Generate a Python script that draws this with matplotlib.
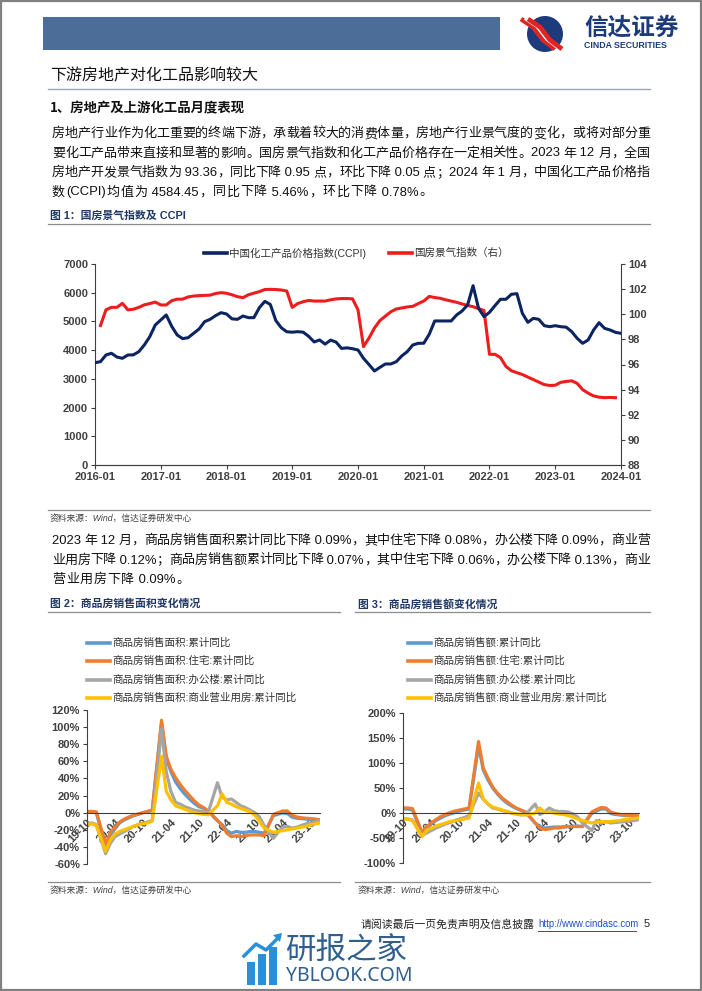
import re
import numpy as np
import matplotlib
matplotlib.use('Agg')
import matplotlib.pyplot as plt
from matplotlib.lines import Line2D
from matplotlib.patches import Rectangle, Ellipse, Polygon

# ---------------- data ----------------
ticks1 = ['2016-01', '2017-01', '2018-01', '2019-01', '2020-01',
          '2021-01', '2022-01', '2023-01', '2024-01']
ccpi = [3563, 3598, 3831, 3890, 3760, 3715, 3830, 3835, 3947, 4180, 4469, 4876,
        5050, 5225, 4830, 4528, 4400, 4435, 4587, 4737, 4991, 5073, 5201, 5305,
        5260, 5090, 5073, 5189, 5131, 5131, 5480, 5700, 5590, 5030, 4780, 4640,
        4625, 4644, 4625, 4480, 4285, 4354, 4210, 4350, 4280, 4060, 4080, 4050,
        4006, 3715, 3500, 3274, 3400, 3518, 3518, 3600, 3800, 3950, 4180, 4238,
        4240, 4552, 5016, 5016, 5016, 5016, 5225, 5364, 5573, 6245, 5457, 5166,
        5317, 5550, 5771, 5771, 5945, 5968, 5282, 4968, 5108, 5073, 4852, 4817,
        4852, 4817, 4800, 4644, 4411, 4238, 4354, 4702, 4957, 4760, 4702, 4620,
        4584]
climate = [None,
           99.10, 100.35, 100.55, 100.55, 100.87, 100.35, 100.40, 100.55, 100.75, 100.85, 100.97,
           100.74, 100.74, 101.08, 101.20, 101.20, 101.38, 101.45, 101.48, 101.50, 101.52, 101.65, 101.72,
           101.67, 101.55, 101.40, 101.32, 101.55, 101.68, 101.80, 101.97, 101.98, 101.97, 101.93, 101.85,
           100.55, 100.85, 101.00, 101.10, 101.05, 101.05, 101.05, 101.15, 101.22, 101.25, 101.25, 101.23,
           100.35, 97.42, 98.10, 98.90, 99.50, 99.85, 100.20, 100.42, 100.50, 100.58, 100.63, 100.85,
           101.05, 101.42, 101.33, 101.27, 101.15, 101.05, 100.95, 100.82, 100.70, 100.60, 100.45, 100.30,
           96.81, 96.81, 96.55, 95.85, 95.50, 95.35, 95.20, 95.00, 94.80, 94.60, 94.40, 94.33,
           94.35, 94.58, 94.65, 94.70, 94.50, 94.00, 93.72, 93.50, 93.40, 93.36, 93.38, 93.36,
           None]
name_ccpi = '中国化工产品价格指数(CCPI)'
name_climate = '国房景气指数（右）'

ticks2 = ['19-10', '20-04', '20-10', '21-04', '21-10', '22-04', '22-10', '23-04', '23-10']
N2 = 51  # monthly 2019-10 .. 2023-12
area_total = [0.5, 0.5, 0, None, -40, -26, -19, -12, -8.5, -6, -3.5, -2, 0, 1.3, 2.6,
              None, 105, 64, 48, 36, 28, 21.5, 16, 11, 7, 5, 2,
              None, -9.6, -14, -21, -24, -22, -23, -23, -22, -22, -23, -24,
              None, -3.6, -1.8, -0.4, -1, -5.3, -6.5, -7, -7.5, -7.8, -8, -8.5]
area_res = [1.5, 1.5, 1, None, -37, -23, -17, -11, -7.5, -5, -3, -1.5, 0, 1.5, 3,
            None, 108, 66, 51, 41, 33, 26, 20, 14, 9, 6, 2,
            None, -9, -15, -24, -28, -27, -28, -27, -26, -26, -26, -27,
            None, -2, 0, 2, 2, -3, -5, -6, -6.5, -7, -7.5, -8.5]
area_office = [-13, -12, -14, None, -48, -36, -28, -25, -22, -19, -16, -14, -12.5, -11, -9,
               None, 98, 48, 25, 12, 10, 7, 5, 3, 2, 1, 0,
               None, 35, 18, 15, 16, 12, 8, 6, 3, 0, -5, -15,
               None, -30, -23, -17, -16, -18, -17, -15, -13, -12, -11, -9]
area_comm = [-14, -13, -15, None, -45, -32, -25, -22, -20, -18, -16, -14, -13, -12, -10,
             None, 66, 25, 15, 8, 6, 4, 2, 0, -1, -2, -2.5,
             None, 8, 22, 12, 10, 7, 5, 3, 1, -3, -10, -18,
             None, -23, -22, -21, -20, -19, -18, -17, -16, -14, -13, -12]
names_area = ['商品房销售面积:累计同比', '商品房销售面积:住宅:累计同比',
              '商品房销售面积:办公楼:累计同比', '商品房销售面积:商业营业用房:累计同比']

amt_total = [8, 8, 6, None, -40, -30, -22, -15, -10, -5, -2, 1, 4, 6, 8,
             None, 134, 86, 66, 50, 38, 28, 20, 14, 9, 5, 1,
             None, -20, -27, -30, -29, -28, -28, -28, -27, -27, -26, -27,
             None, -1, 4, 8, 8, -1, -3, -4, -5, -5, -5.5, -6.5]
amt_res = [10, 10, 9, None, -38, -28, -20, -13, -7, -3, 1, 4, 6, 8, 10,
           None, 143, 90, 70, 52, 40, 30, 23, 16, 10, 6, 2,
           None, -20, -30, -33, -32, -30, -30, -28, -27, -27, -27, -27,
           None, 2, 7, 11, 10, 2, -1, -3, -4, -5, -5, -6]
amt_office = [-12, -12, -14, None, -45, -40, -35, -30, -26, -22, -19, -15, -12, -9, -5,
              None, 40, 28, 18, 10, 8, 5, 3, 0, -2, -4, -3,
              None, 18, -3, 2, 10, 5, 3, 3, 2, -2, -8, -20,
              None, -35, -15, -20, -17, -20, -19, -18, -17, -16, -15, -13]
amt_comm = [-12, -12, -15, None, -47, -35, -30, -26, -23, -20, -17, -15, -14, -12, -10,
            None, 60, 28, 18, 12, 9, 6, 3, 0, -2, -3, -4,
            None, 0, 10, 1, 2, 0, -2, -3, -5, -8, -12, -15,
            None, -20, -18, -17, -18, -17, -16, -15, -13, -12, -11, -10]
names_amt = ['商品房销售额:累计同比', '商品房销售额:住宅:累计同比',
             '商品房销售额:办公楼:累计同比', '商品房销售额:商业营业用房:累计同比']

# ---------------- page ----------------
W, H = 702, 991
fig = plt.figure(figsize=(7.02, 9.91), dpi=100)
fig.patch.set_facecolor('white')
renderer = fig.canvas.get_renderer()

def fx(x):
    return x / W

def fy(y):
    return 1 - y / H

CJK = ['Noto Sans CJK SC', 'DejaVu Sans']
MIX = ['Liberation Sans', 'Noto Sans CJK SC', 'DejaVu Sans']
NUM = ['Liberation Sans', 'DejaVu Sans']
TXT = '#111111'

def ftext(x, y, s, **kw):
    kw.setdefault('va', 'center')
    kw.setdefault('ha', 'left')
    return fig.text(fx(x), fy(y), s, **kw)

def hline(x0, x1, y, color='#8c8c8c', lw=0.9):
    fig.add_artist(Line2D([fx(x0), fx(x1)], [fy(y), fy(y)], transform=fig.transFigure,
                          color=color, lw=lw))

def para_line(s, y, x0=52, x1=650, justify=True, size=9.4):
    toks = re.findall(r'[\x20-\x7e]+|.', s)
    objs, widths = [], []
    for t in toks:
        o = ftext(0, y, t, fontsize=size, family=MIX, color=TXT)
        objs.append(o)
        widths.append(o.get_window_extent(renderer).width)
    gap = (x1 - x0 - sum(widths)) / (len(toks) - 1) if justify else 0.8
    x = x0
    for o, w in zip(objs, widths):
        o.set_position((fx(x), fy(y)))
        x += w + gap

# border
fig.add_artist(Rectangle((0.001, 0.001), 0.998, 0.998, transform=fig.transFigure,
                         fill=False, ec='#808080', lw=1.6))
# header bar
fig.add_artist(Rectangle((fx(43), fy(50)), fx(500) - fx(43), fy(17) - fy(50),
                         transform=fig.transFigure, fc='#4b6d98', ec='none'))
# logo
fig.add_artist(Ellipse((fx(545), fy(34)), 36 / W, 36 / H, transform=fig.transFigure,
                       fc='#1d3b7c', ec='none'))
for dx, c, lw in [(-5, '#e02424', 3.4), (-1.5, 'white', 1.3), (2, '#e02424', 3.4)]:
    fig.add_artist(Line2D([fx(526 + dx), fx(538 + dx), fx(548 + dx), fx(560 + dx)],
                          [fy(19), fy(27), fy(40), fy(49)], transform=fig.transFigure,
                          color=c, lw=lw, solid_capstyle='butt'))
ftext(584, 28, '信达证券', fontsize=17, family=CJK, weight='bold', color='#1d3b7c')
ftext(584, 45, 'CINDA SECURITIES', fontsize=6.3, family=NUM, weight='bold', color='#1d3b7c')

# title & heading
ftext(50, 76, '下游房地产对化工品影响较大', fontsize=11.5, family=CJK, color=TXT)
hline(48, 650, 89, color='#9aa5b5', lw=1.0)
ftext(50, 108, '1、房地产及上游化工品月度表现', fontsize=9.6, family=CJK, weight='bold', color=TXT)

p1 = ['房地产行业作为化工重要的终端下游，承载着较大的消费体量，房地产行业景气度的变化，或将对部分重',
      '要化工产品带来直接和显著的影响。国房景气指数和化工产品价格存在一定相关性。2023 年 12 月，全国',
      '房地产开发景气指数为 93.36，同比下降 0.95 点，环比下降 0.05 点；2024 年 1 月，中国化工产品价格指',
      '数(CCPI)均值为 4584.45，同比下降 5.46%，环比下降 0.78%。']
for i, s in enumerate(p1):
    para_line(s, 134 + i * 19.5, justify=(i < len(p1) - 1))

CAP = '#1f3864'
ftext(50, 216, '图 1：国房景气指数及 CCPI', fontsize=7.8, family=MIX, weight='bold', color=CAP)
hline(48, 650, 224)

# ---------------- chart 1 ----------------
ax1 = fig.add_axes([fx(95), fy(465), fx(621) - fx(95), fy(264) - fy(465)])
x1 = np.arange(len(ccpi))
ax1.plot(x1, ccpi, color='#0c2461', lw=2.2, solid_joinstyle='round', zorder=3)
ax1.set_xlim(0, len(ccpi) - 1)
ax1.set_ylim(0, 7000)
ax1.set_yticks(range(0, 7001, 1000))
ax1.set_xticks(range(0, len(ccpi), 12))
ax1.set_xticklabels(ticks1)
ax1b = ax1.twinx()
cl = np.array([np.nan if v is None else v for v in climate], float)
mk = ~np.isnan(cl)
ax1b.plot(x1[mk], cl[mk], color='#ee1c1c', lw=2.2, solid_joinstyle='round', zorder=2)
ax1b.set_ylim(88, 104)
ax1b.set_yticks(range(88, 105, 2))
ax1.set_zorder(ax1b.get_zorder() + 1)
ax1.patch.set_visible(False)
for a in (ax1, ax1b):
    a.spines['top'].set_visible(False)
    for s in ('left', 'right', 'bottom'):
        a.spines[s].set_color('#404040')
        a.spines[s].set_linewidth(0.8)
    a.tick_params(direction='out', length=3, width=0.8, color='#404040',
                  labelsize=8, labelcolor='#404040', pad=2)
    for lab in a.get_xticklabels() + a.get_yticklabels():
        lab.set_fontweight('bold')
        lab.set_family(NUM)
ax1.spines['right'].set_visible(False)
ax1b.spines['left'].set_visible(False)

# legend chart 1
fig.add_artist(Line2D([fx(204), fx(227)], [fy(253), fy(253)], transform=fig.transFigure,
                      color='#0c2461', lw=2.6))
ftext(229, 253, name_ccpi, fontsize=7.6, family=MIX, color='#333333')
fig.add_artist(Line2D([fx(389), fx(412)], [fy(253), fy(253)], transform=fig.transFigure,
                      color='#ee1c1c', lw=2.6))
ftext(414, 253, name_climate, fontsize=7.6, family=MIX, color='#333333')

hline(48, 650, 510)
SRC = '资料来源：Wind，信达证券研发中心'
ftext(50, 518, SRC, fontsize=6.3, family=MIX, style='italic', color='#404040')

p2 = ['2023 年 12 月，商品房销售面积累计同比下降 0.09%，其中住宅下降 0.08%，办公楼下降 0.09%，商业营',
      '业用房下降 0.12%；商品房销售额累计同比下降 0.07%，其中住宅下降 0.06%，办公楼下降 0.13%，商业',
      '营业用房下降 0.09%。']
for i, s in enumerate(p2):
    para_line(s, 541 + i * 19.5, justify=(i < len(p2) - 1))

ftext(50, 604, '图 2：商品房销售面积变化情况', fontsize=7.8, family=MIX, weight='bold', color=CAP)
ftext(358, 604, '图 3：商品房销售额变化情况', fontsize=7.8, family=MIX, weight='bold', color=CAP)
hline(48, 340, 612)
hline(355, 650, 612)

# ---------------- charts 2 & 3 ----------------
COLS = ['#5b9bd5', '#ed7d31', '#a5a5a5', '#ffc000']

def small_chart(left, right, top, bottom, series, names, ylim, yticks, leg_x):
    ax = fig.add_axes([fx(left), fy(bottom), fx(right) - fx(left), fy(top) - fy(bottom)])
    # spine position first: it resets the ticks
    ax.spines['bottom'].set_position(('data', 0))
    for s in ('top', 'right'):
        ax.spines[s].set_visible(False)
    x = np.arange(N2)
    for vals, c in zip(series, COLS):
        arr = np.array([np.nan if v is None else v for v in vals], float)
        m = ~np.isnan(arr)
        ax.plot(x[m], arr[m], color=c, lw=2.3, solid_joinstyle='round')
    ax.set_xlim(0, N2 - 1)
    ax.set_ylim(*ylim)
    ax.set_yticks(yticks)
    ax.set_yticklabels([f'{v}%' for v in yticks])
    ax.set_xticks(range(0, N2, 6))
    ax.set_xticklabels(ticks2)
    for s in ('left', 'bottom'):
        ax.spines[s].set_color('#404040')
        ax.spines[s].set_linewidth(0.8)
    ax.tick_params(axis='y', direction='out', length=3, width=0.8, color='#404040',
                   labelsize=8, labelcolor='#404040', pad=2)
    ax.tick_params(axis='x', direction='out', length=0, labelsize=8,
                   labelcolor='#404040', pad=3)
    for lab in ax.get_xticklabels():
        lab.set_rotation(45)
        lab.set_ha('right')
        lab.set_va('top')
        lab.set_rotation_mode('anchor')
    for lab in ax.get_xticklabels() + ax.get_yticklabels():
        lab.set_fontweight('bold')
        lab.set_family(NUM)
    rows = [643, 661, 680, 698]
    for nm, c, yy in zip(names, COLS, rows):
        fig.add_artist(Line2D([fx(leg_x), fx(leg_x + 23)], [fy(yy), fy(yy)],
                              transform=fig.transFigure, color=c, lw=2.6))
        ftext(leg_x + 25, yy, nm, fontsize=7.6, family=MIX, color='#333333')
    return ax

small_chart(87, 320, 710, 864, [area_total, area_res, area_office, area_comm], names_area,
            (-60, 120), list(range(-60, 121, 20)), 87)
small_chart(403, 639, 713, 863, [amt_total, amt_res, amt_office, amt_comm], names_amt,
            (-100, 200), list(range(-100, 201, 50)), 408)

hline(48, 340, 882)
hline(355, 650, 882)
ftext(50, 890, SRC, fontsize=6.3, family=MIX, style='italic', color='#404040')
ftext(358, 890, SRC, fontsize=6.3, family=MIX, style='italic', color='#404040')

# footer
ftext(535, 924, '请阅读最后一页免责声明及信息披露', fontsize=7.8, family=CJK, color='#222222', ha='right')
ftext(538, 924, 'http://www.cindasc.com', fontsize=6.9, family=NUM, color='#1f4fbf')
hline(538, 636, 931, color='#1f4fbf', lw=0.7)
ftext(644, 924, '5', fontsize=8, family=NUM, color='#222222')

# watermark
WB = '#2a8fd8'
for bx, top in [(247, 962), (258, 954), (269, 947)]:
    fig.add_artist(Rectangle((fx(bx), fy(985)), 8 / W, fy(top) - fy(985),
                             transform=fig.transFigure, fc=WB, ec='none'))
fig.add_artist(Line2D([fx(244), fx(256), fx(266), fx(279)], [fy(956), fy(944), fy(950), fy(937)],
                      transform=fig.transFigure, color=WB, lw=2.5))
fig.add_artist(Polygon([(fx(282), fy(933)), (fx(273), fy(935)), (fx(280), fy(942))],
                       closed=True, transform=fig.transFigure, fc=WB, ec='none'))
ftext(285, 950, '研报之家', fontsize=22, family=CJK, color='#2f5f8f')
ftext(286, 976, 'YBLOOK.COM', fontsize=14, family=['Noto Sans', 'DejaVu Sans'], color='#2f5f8f')

fig.savefig('out.png', dpi=100, facecolor='white')
